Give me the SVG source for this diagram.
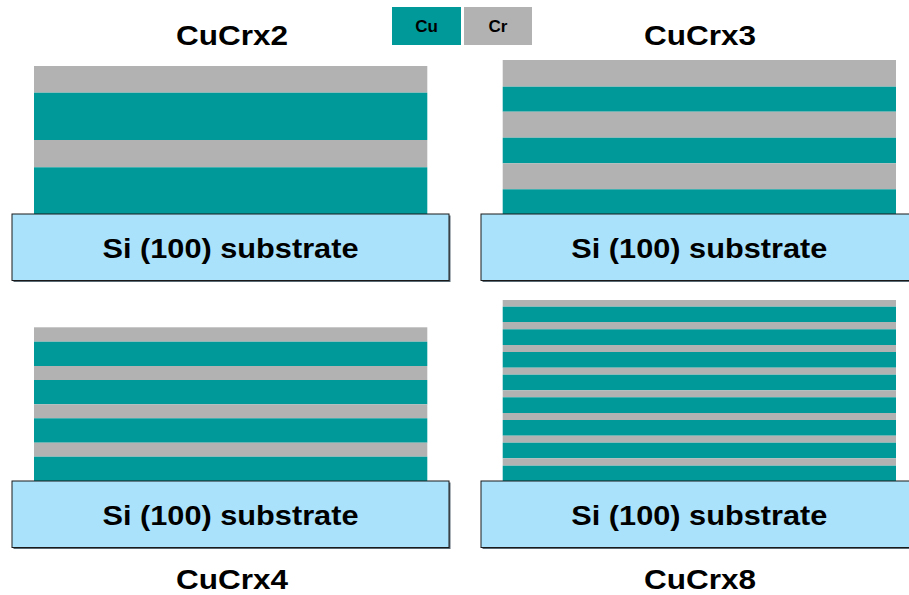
<svg xmlns="http://www.w3.org/2000/svg" width="909" height="595" viewBox="0 0 909 595">
<style>
.cu{fill:#009999}
.cr{fill:#B2B2B2}
.sub{fill:#AAE2FC;stroke:#1a1a1a;stroke-width:1}
.shadow{fill:#5a6a74}
.title{font-family:"Liberation Sans",Arial,sans-serif;font-weight:bold;font-size:28px;fill:#000;text-anchor:middle}
.subt{font-family:"Liberation Sans",Arial,sans-serif;font-weight:bold;font-size:28px;fill:#000;text-anchor:middle}
.leg{font-family:"Liberation Sans",Arial,sans-serif;font-weight:bold;font-size:17px;fill:#000;text-anchor:middle}
</style>
<rect width="909" height="595" fill="#fff"/>
<g id="legend">
<rect class="cu" x="392" y="7" width="69" height="38"/>
<text class="leg" x="426.5" y="32">Cu</text>
<rect class="cr" x="464" y="7" width="68" height="38"/>
<text class="leg" x="498" y="32">Cr</text>
</g>
<g id="CuCrx2">
<text class="title" x="232" y="45" textLength="112" lengthAdjust="spacingAndGlyphs">CuCrx2</text>
<rect class="cr" x="34" y="66" width="393.3" height="26.7"/>
<rect class="cu" x="34" y="92.7" width="393.3" height="47.3"/>
<rect class="cr" x="34" y="140" width="393.3" height="27.3"/>
<rect class="cu" x="34" y="167.3" width="393.3" height="46.7"/>
<rect class="shadow" x="13.5" y="215.5" width="437" height="66.5"/>
<rect class="sub" x="12" y="214" width="437" height="66.5"/>
<text class="subt" x="230.5" y="258.3" textLength="256" lengthAdjust="spacingAndGlyphs">Si (100) substrate</text>
</g>
<g id="CuCrx3">
<text class="title" x="700" y="45" textLength="112" lengthAdjust="spacingAndGlyphs">CuCrx3</text>
<rect class="cr" x="502.7" y="60" width="393.3" height="26.7"/>
<rect class="cu" x="502.7" y="86.7" width="393.3" height="25"/>
<rect class="cr" x="502.7" y="111.7" width="393.3" height="26"/>
<rect class="cu" x="502.7" y="137.7" width="393.3" height="25.6"/>
<rect class="cr" x="502.7" y="163.3" width="393.3" height="26"/>
<rect class="cu" x="502.7" y="189.3" width="393.3" height="24.7"/>
<rect class="shadow" x="482.5" y="215.5" width="437" height="66.5"/>
<rect class="sub" x="481" y="214" width="437" height="66.5"/>
<text class="subt" x="699.3" y="258.3" textLength="256" lengthAdjust="spacingAndGlyphs">Si (100) substrate</text>
</g>
<g id="CuCrx4">
<rect class="cr" x="34" y="327.3" width="393.3" height="14.4"/>
<rect class="cu" x="34" y="341.7" width="393.3" height="24.3"/>
<rect class="cr" x="34" y="366" width="393.3" height="14"/>
<rect class="cu" x="34" y="380" width="393.3" height="24.3"/>
<rect class="cr" x="34" y="404.3" width="393.3" height="14"/>
<rect class="cu" x="34" y="418.3" width="393.3" height="24.4"/>
<rect class="cr" x="34" y="442.7" width="393.3" height="14"/>
<rect class="cu" x="34" y="456.7" width="393.3" height="24.3"/>
<rect class="shadow" x="13.5" y="482.5" width="437" height="66.5"/>
<rect class="sub" x="12" y="481" width="437" height="66.5"/>
<text class="subt" x="230.5" y="525.3" textLength="256" lengthAdjust="spacingAndGlyphs">Si (100) substrate</text>
<text class="title" x="232" y="589.3" textLength="112" lengthAdjust="spacingAndGlyphs">CuCrx4</text>
</g>
<g id="CuCrx8">
<rect class="cr" x="502.7" y="300" width="393.3" height="6.7"/>
<rect class="cu" x="502.7" y="306.7" width="393.3" height="15.3"/>
<rect class="cr" x="502.7" y="322" width="393.3" height="7.3"/>
<rect class="cu" x="502.7" y="329.3" width="393.3" height="15.7"/>
<rect class="cr" x="502.7" y="345" width="393.3" height="7"/>
<rect class="cu" x="502.7" y="352" width="393.3" height="15.7"/>
<rect class="cr" x="502.7" y="367.7" width="393.3" height="7"/>
<rect class="cu" x="502.7" y="374.7" width="393.3" height="15.6"/>
<rect class="cr" x="502.7" y="390.3" width="393.3" height="7"/>
<rect class="cu" x="502.7" y="397.3" width="393.3" height="15.7"/>
<rect class="cr" x="502.7" y="413" width="393.3" height="7"/>
<rect class="cu" x="502.7" y="420" width="393.3" height="15.7"/>
<rect class="cr" x="502.7" y="435.7" width="393.3" height="7"/>
<rect class="cu" x="502.7" y="442.7" width="393.3" height="15.6"/>
<rect class="cr" x="502.7" y="458.3" width="393.3" height="7.4"/>
<rect class="cu" x="502.7" y="465.7" width="393.3" height="15.3"/>
<rect class="shadow" x="482.5" y="482.5" width="437" height="66.5"/>
<rect class="sub" x="481" y="481" width="437" height="66.5"/>
<text class="subt" x="699.3" y="525.3" textLength="256" lengthAdjust="spacingAndGlyphs">Si (100) substrate</text>
<text class="title" x="700" y="589.3" textLength="112" lengthAdjust="spacingAndGlyphs">CuCrx8</text>
</g>
<g id="connectors"/>
</svg>
